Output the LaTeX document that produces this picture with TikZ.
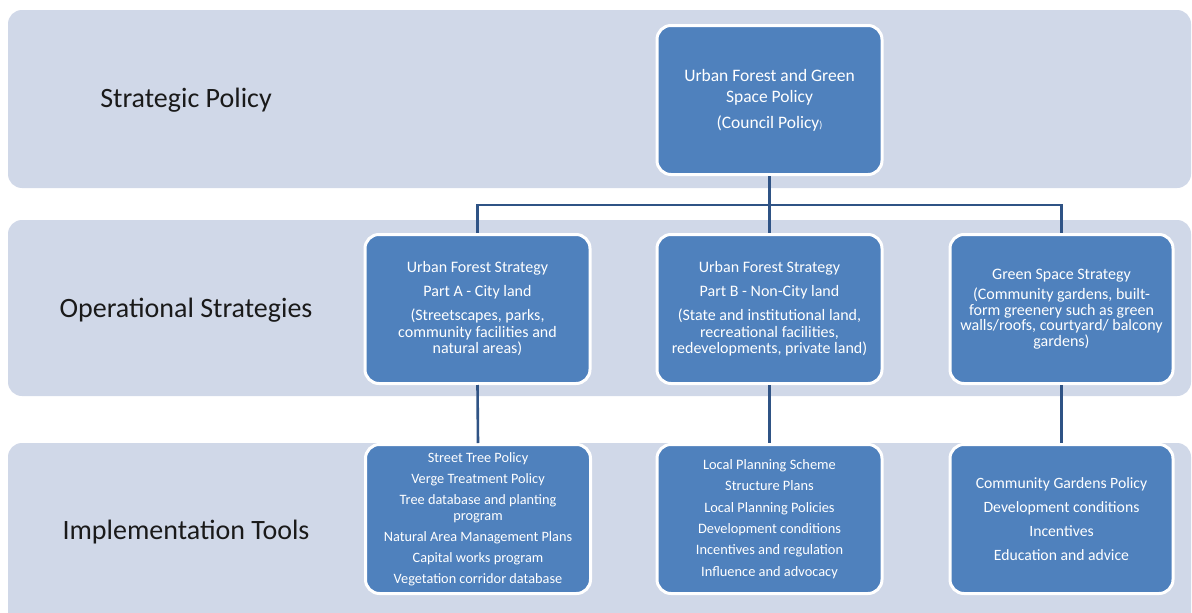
\documentclass[tikz,border=0pt]{standalone}
\usepackage{fontspec}
\setmainfont{Carlito}
\definecolor{bandc}{HTML}{D0D8E8}
\definecolor{boxc}{HTML}{4F81BD}
\definecolor{linec}{HTML}{2F5385}
\definecolor{labc}{HTML}{1A1A1A}
\begin{document}
\begin{tikzpicture}[x=1pt,y=-1pt,
  band/.style={fill=bandc,draw=none,rounded corners=14pt},
  bluebox/.style={rectangle,fill=boxc,draw=white,line width=3pt,rounded corners=14pt,
    text=white,align=center,inner sep=2pt,minimum width=225pt,minimum height=149pt},
  rowlabel/.style={text=labc,font=\fontsize{28}{32}\selectfont,anchor=center},
  conn/.style={draw=linec,line width=2.6pt}]
\useasboundingbox (0,0) rectangle (1192,613);
\clip (0,0) rectangle (1192,613);
\fill[white] (0,0) rectangle (1192,613);
% bands
\path[band] (8,10) rectangle (1191,188);
\path[band] (8,220) rectangle (1191,396);
\path[band] (8,443) rectangle (1191,640);
% row labels
\node[rowlabel] (l1) at (186,100) {Strategic Policy};
\node[rowlabel] (l2) at (186,310) {Operational Strategies};
\node[rowlabel] (l3) at (186,532) {Implementation Tools};
% top box
\node[bluebox,font=\fontsize{17.5}{21}\selectfont] (top) at (769.5,100)
  {Urban Forest and Green\\Space Policy\\[5pt](Council Policy{\fontsize{10}{11}\selectfont)}};
% middle boxes
\node[bluebox,font=\fontsize{16}{16.5}\selectfont] (ma) at (477.5,309)
  {Urban Forest Strategy\\[7pt]Part A - City land\\[8pt](Streetscapes, parks,\\community facilities and\\natural areas)};
\node[bluebox,font=\fontsize{16}{16.5}\selectfont] (mb) at (769.5,309)
  {Urban Forest Strategy\\[7pt]Part B - Non-City land\\[8pt](State and institutional land,\\recreational facilities,\\redevelopments, private land)};
\node[bluebox,font=\fontsize{16}{15.5}\selectfont,minimum width=223pt] (mc) at (1061.5,309)
  {Green Space Strategy\\[4.5pt](Community gardens, built-\\form greenery such as green\\walls/roofs, courtyard/ balcony\\gardens)};
% bottom boxes
\node[bluebox,font=\fontsize{14.3}{16}\selectfont] (ba) at (478,519)
  {Street Tree Policy\\[5pt]Verge Treatment Policy\\[5pt]Tree database and planting\\program\\[5pt]Natural Area Management Plans\\[5pt]Capital works program\\[5pt]Vegetation corridor database};
\node[bluebox,font=\fontsize{14.4}{21.4}\selectfont] (bb) at (769.5,519)
  {Local Planning Scheme\\Structure Plans\\Local Planning Policies\\Development conditions\\Incentives and regulation\\Influence and advocacy};
\node[bluebox,font=\fontsize{15.7}{24}\selectfont,minimum width=223pt] (bc) at (1061.5,519)
  {Community Gardens Policy\\Development conditions\\Incentives\\Education and advice};
% connectors
\coordinate (jl) at (477.5,205);
\draw[conn] (top.south) -- (mb.north);
\draw[conn] (ma.north) -- (jl) -| (mc.north);
\draw[conn] (ma.south) -- (ba.north);
\draw[conn] (mb.south) -- (bb.north);
\draw[conn] (mc.south) -- (bc.north);
\end{tikzpicture}
\end{document}
